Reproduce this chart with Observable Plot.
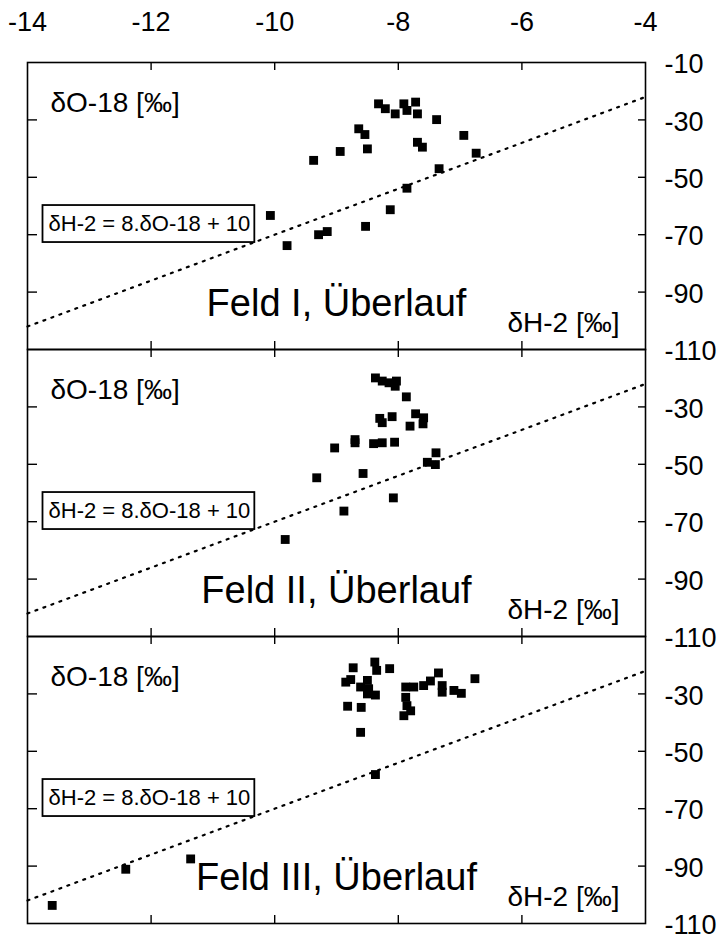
<!DOCTYPE html>
<html>
<head>
<meta charset="utf-8">
<script src="https://cdn.jsdelivr.net/npm/d3@7"></script>
<script src="https://cdn.jsdelivr.net/npm/@observablehq/plot@0.6"></script>
<style>
  html, body { margin: 0; padding: 0; background: #fff; }
  #chart svg { display: block; }
</style>
</head>
<body>
<div id="chart"></div>
<script>
// ---- data ----
const panels = ["I", "II", "III"];
const feldLabels = ["Feld I, Überlauf", "Feld II, Überlauf", "Feld III, Überlauf"];
const xTicks = [-14, -12, -10, -8, -6, -4];
const yTickLabels = [-10, -30, -50, -70, -90, -110];
const innerXTicks = [-12, -10, -8, -6];
const innerYTicks = [-30, -50, -70, -90];
const gmwlX = [-14, -4];
const eqText = "δH-2 = 8.δO-18 + 10";
const o18Label = "δO-18 [‰]";
const h2Label = "δH-2 [‰]";

const feld1O18 = [-8.32,-8.21,-8.05,-7.91,-7.72,-7.86,-7.69,-7.38,-8.64,-8.54,-8.94,-8.50,-9.37,-7.69,-7.61,-6.94,-6.74,-7.34,-7.86,-8.13,-8.53,-9.15,-9.29,-9.80,-10.07];
const feld1H2  = [-24.4,-26.1,-27.9,-24.4,-23.8,-26.7,-27.9,-29.9,-33.1,-35.1,-41.0,-40.1,-44.1,-37.8,-39.5,-35.4,-41.6,-47.0,-53.8,-61.3,-67.1,-68.9,-70.0,-73.8,-63.3];

const feld2O18 = [-8.37,-8.26,-8.15,-8.03,-8.05,-7.87,-8.30,-8.26,-8.10,-7.72,-7.59,-7.60,-7.81,-8.70,-8.70,-9.03,-8.40,-8.26,-8.06,-7.39,-7.53,-7.40,-9.32,-8.57,-8.08,-8.88,-9.83];
const feld2H2  = [-19.9,-21.0,-21.6,-21.0,-22.8,-26.5,-34.0,-35.5,-33.4,-32.4,-33.8,-35.9,-36.7,-41.4,-42.5,-44.3,-42.8,-42.5,-42.3,-46.0,-49.3,-50.1,-54.7,-53.2,-61.7,-66.3,-76.2];

const feld3O18 = [-8.73,-8.38,-8.35,-8.14,-8.85,-8.77,-8.61,-8.50,-8.48,-8.50,-8.37,-8.82,-8.60,-8.61,-7.88,-7.88,-7.86,-7.80,-7.91,-7.75,-7.59,-7.48,-7.35,-7.29,-7.29,-7.10,-6.98,-6.76,-8.37,-13.60,-12.41,-11.36];
const feld3H2  = [-20.9,-18.9,-21.8,-21.2,-25.9,-25.0,-27.6,-25.3,-28.2,-30.0,-30.4,-34.3,-34.7,-43.4,-27.6,-31.2,-34.1,-35.9,-37.6,-27.6,-27.1,-25.5,-22.7,-27.1,-29.4,-28.8,-29.8,-24.7,-58.1,-103.7,-91.1,-87.5];

// ---- derived tables ----
const seriesO18 = [feld1O18, feld2O18, feld3O18];
const seriesH2 = [feld1H2, feld2H2, feld3H2];
const points = panels.flatMap((p, i) => seriesO18[i].map((x, j) => ({panel: p, o18: x, h2: seriesH2[i][j]})));
const gmwl = gmwlX.map(x => ({o18: x, h2: 8 * x + 10}));   // δH-2 = 8·δO-18 + 10
const feldRows = panels.map((p, i) => ({panel: p, label: feldLabels[i]}));
const yLabelRows = panels.flatMap(p => yTickLabels.filter(v => p === "I" || v !== -10).map(v => ({panel: p, v})));

// ---- layout ----
const W = 719, H = 939;
const mTop = 62, mBottom = 16, mLeft = 27, mRight = 74;
const frameW = W - mLeft - mRight;
const facetH = (H - mTop - mBottom) / panels.length;
const font = "'Liberation Sans', Arial, Helvetica, sans-serif";

const chart = Plot.plot({
  width: W,
  height: H,
  marginTop: mTop,
  marginBottom: mBottom,
  marginLeft: mLeft,
  marginRight: mRight,
  style: {fontFamily: font, color: "black", background: "white"},
  x: {domain: [-14, -4], label: null},
  y: {domain: [-110, -10], axis: null, label: null},
  fy: {domain: panels, padding: 0, axis: null, label: null},
  marks: [
    Plot.frame({stroke: "black", strokeWidth: 1.6}),
    // inward ticks
    Plot.tickY(innerYTicks, {y: d => d, stroke: "black", strokeWidth: 1.4, insetRight: frameW - 10}),
    Plot.tickY(innerYTicks, {y: d => d, stroke: "black", strokeWidth: 1.4, insetLeft: frameW - 7}),
    Plot.tickX(innerXTicks, {x: d => d, stroke: "black", strokeWidth: 1.4, insetBottom: facetH - 8}),
    Plot.tickX(innerXTicks, {x: d => d, stroke: "black", strokeWidth: 1.4, insetTop: facetH - 8}),
    // top x axis labels
    Plot.axisX({anchor: "top", ticks: xTicks, tickSize: 0, tickPadding: 32, fontSize: 27, label: null, tickFormat: d => `${d}`}),
    // right y labels
    Plot.text(yLabelRows, {y: "v", fy: "panel", text: d => `${d.v}`, frameAnchor: "right", dx: 19, dy: 2,
      textAnchor: "start", lineAnchor: "middle", fontSize: 27, fill: "black"}),
    // GMWL dotted line
    Plot.line(gmwl, {x: "o18", y: "h2", stroke: "black", strokeWidth: 2.2, strokeDasharray: "2,6.5", strokeLinecap: "round"}),
    // data points
    Plot.dot(points, {x: "o18", y: "h2", fy: "panel", symbol: "square", r: 5, fill: "black", stroke: "none"}),
    // labels
    Plot.text([o18Label], {frameAnchor: "top-left", dx: 23, dy: 41, text: d => d, textAnchor: "start",
      lineAnchor: "middle", fontSize: 28, fill: "black"}),
    Plot.text([h2Label], {frameAnchor: "bottom-right", dx: -26, dy: -26, text: d => d, textAnchor: "end",
      lineAnchor: "middle", fontSize: 28, fill: "black"}),
    Plot.text([eqText], {frameAnchor: "left", dx: 21, dy: 18, text: d => d, textAnchor: "start",
      lineAnchor: "middle", fontSize: 22, fill: "black"}),
    Plot.text(feldRows, {fy: "panel", text: "label", frameAnchor: "bottom", dy: -46,
      lineAnchor: "middle", textAnchor: "middle", fontSize: 38, fill: "black"})
  ]
});

document.getElementById("chart").appendChild(chart);

// draw a box around each equation label
const svgNS = "http://www.w3.org/2000/svg";
chart.querySelectorAll("text").forEach(t => {
  if (t.textContent === eqText) {
    const b = t.getBBox();
    const r = document.createElementNS(svgNS, "rect");
    const padX = 6, padY = 7;
    r.setAttribute("x", b.x - padX);
    r.setAttribute("y", b.y - padY + 1);
    r.setAttribute("width", b.width + 2 * padX - 2);
    r.setAttribute("height", b.height + 2 * padY - 2);
    r.setAttribute("fill", "white");
    r.setAttribute("stroke", "black");
    r.setAttribute("stroke-width", "1.8");
    const tr = t.getAttribute("transform");
    if (tr) r.setAttribute("transform", tr);
    t.parentNode.insertBefore(r, t);
  }
});
</script>
</body>
</html>
